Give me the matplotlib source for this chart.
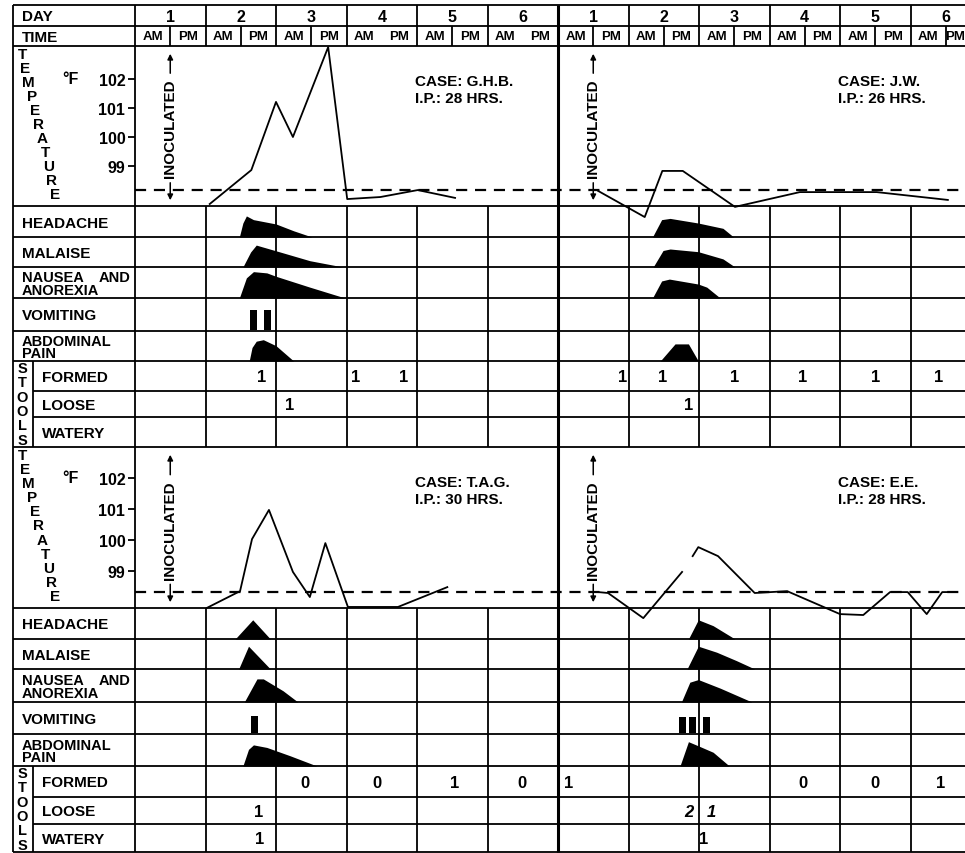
import numpy as np
import matplotlib.pyplot as plt

plt.rcParams['font.family'] = ['Liberation Sans', 'DejaVu Sans']
plt.rcParams['font.weight'] = 'bold'

# temperature readings: day since start of chart, deg F
ghb_temp_day = [1.06, 1.65, 2.00, 2.24, 2.74, 3.01, 3.48, 4.01, 4.54]
ghb_temp_f = [97.69, 98.86, 101.21, 100.0, 103.10, 97.86, 97.93, 98.17, 97.90]
jw_temp_day = [0.57, 1.23, 1.48, 1.77, 2.51, 3.43, 4.52, 5.53]
jw_temp_f = [98.14, 97.24, 98.83, 98.83, 97.59, 98.10, 98.10, 97.83]
tag_temp_day = [1.02, 1.49, 1.66, 1.90, 2.24, 2.48, 2.70, 3.02, 3.73, 4.43]
tag_temp_f = [97.81, 98.35, 100.03, 100.97, 98.97, 98.16, 99.90, 97.84, 97.84, 98.48]
ee_temp_day = [0.57, 0.71, 1.21, 1.76, np.nan, 1.91, 1.99, 2.27, 2.79, 3.25,
               4.00, 4.33, 4.71, 4.96, 5.23, 5.45, 5.66]
ee_temp_f = [98.32, 98.29, 97.48, 98.97, np.nan, 99.48, 99.77, 99.48, 98.29, 98.35,
             97.61, 97.58, 98.32, 98.32, 97.61, 98.32, 98.32]
normal_top = 98.17
normal_bottom = 98.32

# symptom intensity profiles (day, fraction of row)
ghb_headache = [(1.48, 0), (1.53, 0.45), (1.58, 0.68), (1.68, 0.56), (2.0, 0.42), (2.25, 0.2), (2.51, 0)]
ghb_malaise = [(1.53, 0), (1.64, 0.5), (1.72, 0.73), (2.0, 0.54), (2.48, 0.21), (2.95, 0)]
ghb_nausea = [(1.48, 0), (1.58, 0.65), (1.68, 0.85), (1.87, 0.81), (2.0, 0.70), (2.48, 0.35), (2.98, 0)]
ghb_abdominal = [(1.62, 0), (1.66, 0.45), (1.72, 0.66), (1.82, 0.71), (2.0, 0.51), (2.25, 0)]
ghb_vomit = [1.685, 1.88]
ghb_vomit_h = 0.6

jw_headache = [(1.34, 0), (1.47, 0.56), (1.59, 0.6), (1.99, 0.45), (2.34, 0.28), (2.49, 0)]
jw_malaise = [(1.35, 0), (1.49, 0.55), (1.59, 0.6), (1.99, 0.51), (2.34, 0.27), (2.51, 0)]
jw_nausea = [(1.34, 0), (1.47, 0.55), (1.58, 0.61), (1.99, 0.45), (2.11, 0.35), (2.30, 0)]
jw_abdominal = [(1.45, 0), (1.66, 0.57), (1.85, 0.57), (1.99, 0)]
jw_vomit = []
jw_vomit_h = 0.5

tag_headache = [(1.42, 0), (1.67, 0.62), (1.92, 0)]
tag_malaise = [(1.47, 0), (1.61, 0.76), (1.92, 0)]
tag_nausea = [(1.55, 0), (1.73, 0.70), (1.82, 0.70), (2.10, 0.34), (2.31, 0)]
tag_abdominal = [(1.53, 0), (1.61, 0.52), (1.68, 0.66), (1.87, 0.58), (2.20, 0.32), (2.58, 0)]
tag_vomit = [1.695]
tag_vomit_h = 0.53

ee_headache = [(1.85, 0), (1.99, 0.62), (2.20, 0.43), (2.51, 0)]
ee_malaise = [(1.83, 0), (1.99, 0.76), (2.25, 0.56), (2.53, 0.28), (2.79, 0)]
ee_nausea = [(1.75, 0), (1.87, 0.60), (1.99, 0.68), (2.30, 0.42), (2.75, 0)]
ee_abdominal = [(1.73, 0), (1.85, 0.76), (1.99, 0.63), (2.20, 0.43), (2.43, 0)]
ee_vomit = [1.76, 1.91, 2.10]
ee_vomit_h = 0.49

# stools (day, count)
ghb_formed = [(1.80, 1), (3.13, 1), (3.81, 1)]
ghb_loose = [(2.20, 1)]
ghb_watery = []
jw_formed = [(0.92, 1), (1.49, 1), (2.51, 1), (3.47, 1), (4.50, 1), (5.40, 1)]
jw_loose = [(1.85, 1)]
jw_watery = []
tag_formed = [(2.41, 0), (3.43, 0), (4.54, 1), (5.49, 0)]
tag_loose = [(1.76, 1)]
tag_watery = [(1.77, 1)]
ee_formed = [(0.15, 1), (3.47, 0), (4.50, 0), (5.43, 1)]
ee_loose = [(1.85, 2), (2.17, 1)]
ee_watery = [(2.06, 1)]

case_names = ['G.H.B.', 'J.W.', 'T.A.G.', 'E.E.']
incubation_hrs = [28, 26, 30, 28]
day_labels = ['1', '2', '3', '4', '5', '6']
symptom_labels = ['HEADACHE', 'MALAISE', 'NAUSEA  AND\nANOREXIA', 'VOMITING', 'ABDOMINAL\nPAIN']
stool_labels = ['FORMED', 'LOOSE', 'WATERY']

# ---- layout (pixels) ----
W, H = 965, 854
X0, DAYW = 135, 70.5
LEFT = 13
bands = [
    dict(top=47, bot=207, rows=[207, 238, 268, 299, 332, 362, 392, 418, 448], t99=167, ppd=29, normal=normal_top),
    dict(top=448, bot=609, rows=[609, 640, 670, 703, 735, 767, 798, 825, 853], t99=572, ppd=31, normal=normal_bottom),
]
ampm_split = [True, True, True, False, True, False, True, True, True, True, True, True]
LW = 1.3


def px(x):
    return (x - X0) / DAYW


cases = [
    dict(band=0, off=0, temp=(ghb_temp_day, ghb_temp_f),
         shapes=[ghb_headache, ghb_malaise, ghb_nausea, None, ghb_abdominal],
         vomit=ghb_vomit, vh=ghb_vomit_h, stools=[ghb_formed, ghb_loose, ghb_watery], italic_loose=False),
    dict(band=0, off=6, temp=(jw_temp_day, jw_temp_f),
         shapes=[jw_headache, jw_malaise, jw_nausea, None, jw_abdominal],
         vomit=jw_vomit, vh=jw_vomit_h, stools=[jw_formed, jw_loose, jw_watery], italic_loose=False),
    dict(band=1, off=0, temp=(tag_temp_day, tag_temp_f),
         shapes=[tag_headache, tag_malaise, tag_nausea, None, tag_abdominal],
         vomit=tag_vomit, vh=tag_vomit_h, stools=[tag_formed, tag_loose, tag_watery], italic_loose=False),
    dict(band=1, off=6, temp=(ee_temp_day, ee_temp_f),
         shapes=[ee_headache, ee_malaise, ee_nausea, None, ee_abdominal],
         vomit=ee_vomit, vh=ee_vomit_h, stools=[ee_formed, ee_loose, ee_watery], italic_loose=True),
]

fig = plt.figure(figsize=(W / 100, H / 100), dpi=100)
ax = fig.add_axes([0, 0, 1, 1])
ax.set_xlim(px(0), px(W))
ax.set_ylim(H, 0)
ax.axis('off')

# grid
ax.hlines([6, 27, 47], px(LEFT), px(W), color='k', lw=LW)
for b in bands:
    r = b['rows']
    ax.hlines(r[:6] + [r[8]], px(LEFT), px(W), color='k', lw=LW)
    ax.hlines(r[6:8], px(33), px(W), color='k', lw=LW)
    ax.vlines(px(33), r[5], r[8], color='k', lw=LW)
    for d in list(range(1, 6)) + list(range(7, 12)):
        ax.vlines(d, r[0], r[8], color='k', lw=LW)
ax.vlines([px(LEFT), 0], 6, H - 1, color='k', lw=LW)
ax.vlines(6, 6, H - 1, color='k', lw=2.2)
for d in list(range(1, 6)) + list(range(7, 12)):
    ax.vlines(d, 6, 47, color='k', lw=LW)
for i, split in enumerate(ampm_split):
    if split:
        ax.vlines(i + 0.5, 27, 47, color='k', lw=LW)

# header
ax.text(px(22), 17, 'DAY', fontsize=11, va='center', ha='left')
ax.text(px(22), 37.5, 'TIME', fontsize=11, va='center', ha='left')
for c in range(2):
    for i, lab in enumerate(day_labels):
        d = 6 * c + i
        ax.text(d + 0.5, 17, lab, fontsize=11.5, ha='center', va='center')
        ax.text(d + 0.25, 37.5, 'AM', fontsize=9.5, ha='center', va='center')
        if d + 1 < px(W):
            ax.text(d + 0.75, 37.5, 'PM', fontsize=9.5, ha='center', va='center')
        else:
            ax.text(px(W), 37.5, 'PM', fontsize=9.5, ha='right', va='center')

# left labels
for b in bands:
    r = b['rows']
    for i, lab in enumerate(symptom_labels):
        lines = lab.split('\n')
        yc = (r[i] + r[i + 1]) / 2 + 1
        if len(lines) == 1:
            ax.text(px(22), yc, lab, fontsize=11, ha='left', va='center')
            continue
        for j, line in enumerate(lines):
            yl = yc + (j - 0.5) * 12.5
            parts = line.split('  ')
            ax.text(px(22), yl, parts[0], fontsize=10.5, ha='left', va='center')
            if len(parts) > 1:
                ax.text(px(131), yl, parts[1], fontsize=10.5, ha='right', va='center')
    for i, lab in enumerate(stool_labels):
        ax.text(px(42), (r[5 + i] + r[6 + i]) / 2 + 1, lab, fontsize=11, ha='left', va='center')
    for i, ch in enumerate('STOOLS'):
        ax.text(px(22), r[5] + (i + 0.5) * (r[8] - r[5]) / 6, ch, fontsize=10.5, ha='center', va='center')
    letters = 'TEMPERATURE'
    for i, ch in enumerate(letters):
        f = i / (len(letters) - 1)
        ax.text(px(22 + 33 * f), b['top'] + 8 + f * (b['bot'] - b['top'] - 20), ch,
                fontsize=11, ha='center', va='center')
    ax.text(px(70), b['t99'] - 3 * b['ppd'], '°F', fontsize=11.5, ha='center', va='center')

# temperature panels
tax = []
for b in bands:
    t = fig.add_axes([X0 / W, 1 - b['bot'] / H, (W - X0) / W, (b['bot'] - b['top']) / H])
    t.set_xlim(0, px(W))
    t.set_ylim(99 - (b['bot'] - b['t99']) / b['ppd'], 99 + (b['t99'] - b['top']) / b['ppd'])
    t.patch.set_alpha(0)
    for s in t.spines.values():
        s.set_visible(False)
    t.set_xticks([])
    t.set_yticks([99, 100, 101, 102])
    t.set_yticklabels(['99', '100', '101', '102'], fontsize=11.5, fontweight='bold')
    t.tick_params(axis='y', direction='out', length=5, width=1.3, pad=2)
    t.axhline(b['normal'], color='k', lw=1.6, ls=(0, (5, 3.5)))
    tax.append(t)

for k, cs in enumerate(cases):
    b = bands[cs['band']]
    r = b['rows']
    off = cs['off']
    days, temps = cs['temp']
    tax[cs['band']].plot(np.array(days) + off, temps, color='k', lw=1.3, clip_on=False)

    # inoculation marker
    mid = (b['top'] + b['bot']) / 2 + 2
    ax.text(off + 0.5, mid, 'INOCULATED', rotation=90, fontsize=11, ha='center', va='center')
    ax.annotate('', xy=(off + 0.5, b['top'] + 5), xytext=(off + 0.5, mid - 52),
                arrowprops=dict(arrowstyle='-|>', lw=1.1, color='k', mutation_scale=8))
    ax.annotate('', xy=(off + 0.5, b['bot'] - 3), xytext=(off + 0.5, mid + 52),
                arrowprops=dict(arrowstyle='-|>', lw=1.1, color='k', mutation_scale=8))

    # case label
    ax.text(off + 3.97, b['top'] + 35, 'CASE: ' + case_names[k], fontsize=11, ha='left', va='center')
    ax.text(off + 3.97, b['top'] + 52, 'I.P.: %d HRS.' % incubation_hrs[k], fontsize=11, ha='left', va='center')

    # symptoms
    for i, prof in enumerate(cs['shapes']):
        if prof is None:
            continue
        d = np.array([p[0] for p in prof]) + off
        h = np.array([p[1] for p in prof])
        rh = r[i + 1] - r[i]
        ax.fill_between(d, r[i + 1] - h * rh, r[i + 1], color='k', lw=0)
    rh = r[4] - r[3]
    if cs['vomit']:
        ax.bar(np.array(cs['vomit']) + off, -cs['vh'] * rh, width=0.1, bottom=r[4] - 1, color='k')

    # stools
    for i, entries in enumerate(cs['stools']):
        for d, n in entries:
            style = 'italic' if (i == 1 and cs['italic_loose']) else 'normal'
            ax.text(d + off, (r[5 + i] + r[6 + i]) / 2 + 1, str(n), fontsize=12,
                    style=style, ha='center', va='center')

fig.savefig('out.png', dpi=100, facecolor='white')
